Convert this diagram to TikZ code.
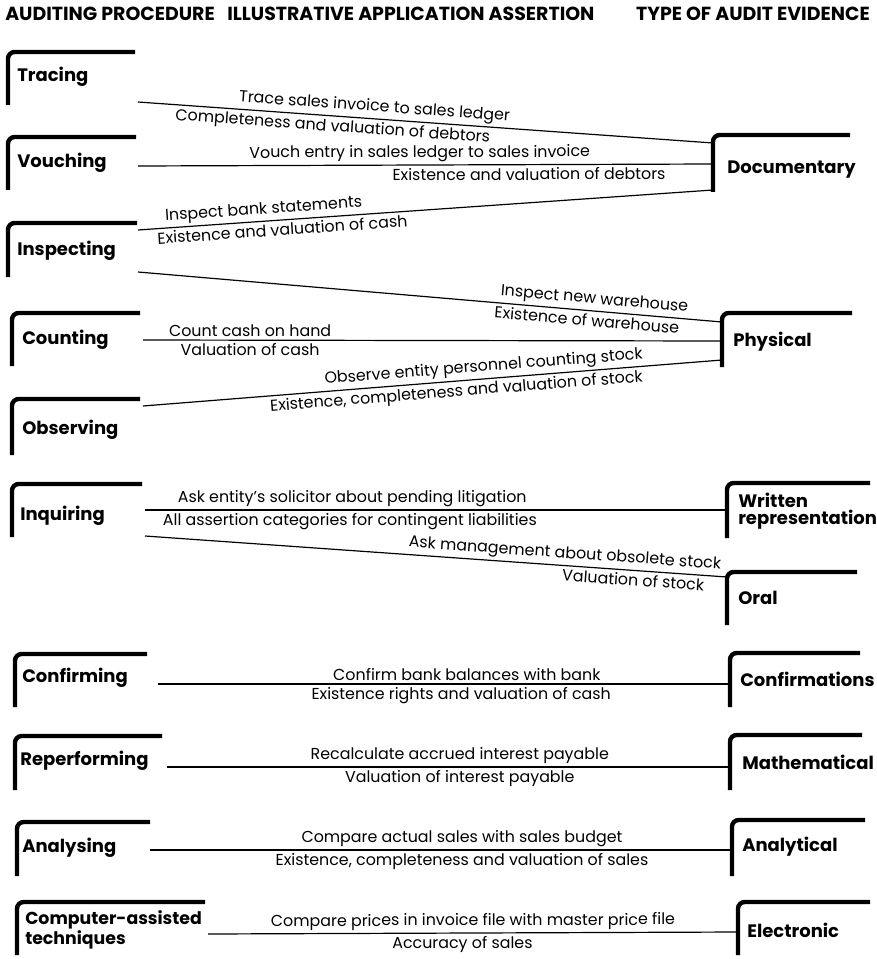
\documentclass[tikz,border=0pt]{standalone}
\usepackage{fontspec}
\setmainfont{Poppins}
\tikzset{
  bracket/.style={line width=3.3pt, rounded corners=5pt},
  proc/.style={anchor=west, inner sep=0pt, align=left, font=\bfseries\fontsize{13.5}{12.75}\selectfont},
  head/.style={anchor=west, inner sep=0pt, font=\bfseries\fontsize{14.2}{15}\selectfont},
  link/.style={line width=0.9pt},
  asrt/.style={sloped, inner sep=2pt, font=\fontsize{11.9}{13}\selectfont}
}

\begin{document}
\begin{tikzpicture}[x=0.75pt,y=-0.75pt]
  \useasboundingbox (0,0) rectangle (876,959);
  \node[head] (hproc) at (5,14) {AUDITING PROCEDURE};
  \node[head] (happ) at (227,14) {ILLUSTRATIVE APPLICATION ASSERTION};
  \node[head, anchor=east] (htype) at (870,14) {TYPE OF AUDIT EVIDENCE};

  \draw[bracket] (8,105) -- (8,52) -- (135,52);
  \node[proc] (tracing) at (17,77) {Tracing};
  \coordinate (tracing-r) at (138,102);
  \draw[bracket] (8,190) -- (8,137) -- (136,137);
  \node[proc] (vouching) at (17,163) {Vouching};
  \coordinate (vouching-r) at (138,166);
  \draw[bracket] (8,277) -- (8,223) -- (137,223);
  \node[proc] (inspecting) at (17,251) {Inspecting};
  \coordinate (inspecting-r1) at (138,230);
  \coordinate (inspecting-r2) at (138,272);
  \draw[bracket] (12,366) -- (12,313) -- (140,313);
  \node[proc] (counting) at (22,340) {Counting};
  \coordinate (counting-r) at (143,340);
  \draw[bracket] (12,455) -- (12,399) -- (140,399);
  \node[proc] (observing) at (22,430) {Observing};
  \coordinate (observing-r) at (143,406);
  \draw[bracket] (12,537) -- (12,484) -- (142,484);
  \node[proc] (inquiring) at (20,516) {Inquiring};
  \coordinate (inquiring-r1) at (145,510);
  \coordinate (inquiring-r2) at (145,536);
  \draw[bracket] (15,707) -- (15,654) -- (147,654);
  \node[proc] (confirming) at (22,678) {Confirming};
  \coordinate (confirming-r) at (158,684);
  \draw[bracket] (15,790) -- (15,736) -- (162,736);
  \node[proc] (reperforming) at (20,761) {Reperforming};
  \coordinate (reperforming-r) at (167,767);
  \draw[bracket] (17,876) -- (17,822) -- (150,822);
  \node[proc] (analysing) at (22,848) {Analysing};
  \coordinate (analysing-r) at (150,850);
  \draw[bracket] (17,955) -- (17,902) -- (205,902);
  \node[proc, font=\bfseries\fontsize{13}{12.75}\selectfont] (caat) at (25,930) {Computer-assisted\\techniques};
  \coordinate (caat-r) at (208,934);

  \draw[bracket] (713,192) -- (713,135) -- (850,135);
  \node[proc] (documentary) at (727,170) {Documentary};
  \coordinate (documentary-l1) at (713,143);
  \coordinate (documentary-l2) at (713,164);
  \coordinate (documentary-l3) at (713,190);
  \draw[bracket] (722,367) -- (722,313) -- (852,313);
  \node[proc] (physical) at (733,342) {Physical};
  \coordinate (physical-l1) at (722,322);
  \coordinate (physical-l2) at (722,341);
  \coordinate (physical-l3) at (722,360);
  \draw[bracket] (727,538) -- (727,483) -- (870,483);
  \node[proc] (written) at (738,511) {Written\\representation};
  \coordinate (written-l) at (727,510);
  \draw[bracket] (727,625) -- (727,572) -- (857,572);
  \node[proc] (oral) at (738,598) {Oral};
  \coordinate (oral-l) at (727,577);
  \draw[bracket] (730,707) -- (730,653) -- (860,653);
  \node[proc] (confirmations) at (740,679) {Confirmations};
  \coordinate (confirmations-l) at (730,684);
  \draw[bracket] (730,790) -- (730,735) -- (862,735);
  \node[proc] (mathematical) at (742,762) {Mathematical};
  \coordinate (mathematical-l) at (730,767);
  \draw[bracket] (732,876) -- (732,820) -- (865,820);
  \node[proc] (analytical) at (742,847) {Analytical};
  \coordinate (analytical-l) at (732,850);
  \draw[bracket] (738,955) -- (738,902) -- (870,902);
  \node[proc] (electronic) at (747,930) {Electronic};
  \coordinate (electronic-l) at (738,932);

  \draw[link] (tracing-r) -- node[asrt,above,pos=0.41] {Trace sales invoice to sales ledger}
    node[asrt,below,pos=0.34] {Completeness and valuation of debtors} (documentary-l1);
  \draw[link] (vouching-r) -- node[asrt,above,pos=0.49] {Vouch entry in sales ledger to sales invoice}
    node[asrt,below,pos=0.68] {Existence and valuation of debtors} (documentary-l2);
  \draw[link] (inspecting-r1) -- node[asrt,above,pos=0.22] {Inspect bank statements}
    node[asrt,below,pos=0.25] {Existence and valuation of cash} (documentary-l3);
  \draw[link] (inspecting-r2) -- node[asrt,above,pos=0.78] {Inspect new warehouse}
    node[asrt,below,pos=0.77] {Existence of warehouse} (physical-l1);
  \draw[link] (counting-r) -- node[asrt,above,pos=0.185] {Count cash on hand}
    node[asrt,below,pos=0.185] {Valuation of cash} (physical-l2);
  \draw[link] (observing-r) -- node[asrt,above,pos=0.59] {Observe entity personnel counting stock}
    node[asrt,below,pos=0.54] {Existence, completeness and valuation of stock} (physical-l3);
  \draw[link] (inquiring-r1) -- node[asrt,above,pos=0.356] {Ask entity's solicitor about pending litigation}
    node[asrt,below,pos=0.352] {All assertion categories for contingent liabilities} (written-l);
  \draw[link] (inquiring-r2) -- node[asrt,above,pos=0.72] {Ask management about obsolete stock}
    node[asrt,below,pos=0.84] {Valuation of stock} (oral-l);
  \draw[link] (confirming-r) -- node[asrt,above,pos=0.54] {Confirm bank balances with bank}
    node[asrt,below,pos=0.53] {Existence rights and valuation of cash} (confirmations-l);
  \draw[link] (reperforming-r) -- node[asrt,above,pos=0.52] {Recalculate accrued interest payable}
    node[asrt,below,pos=0.52] {Valuation of interest payable} (mathematical-l);
  \draw[link] (analysing-r) -- node[asrt,above,pos=0.536] {Compare actual sales with sales budget}
    node[asrt,below,pos=0.536] {Existence, completeness and valuation of sales} (analytical-l);
  \draw[link] (caat-r) -- node[asrt,above,pos=0.5] {Compare prices in invoice file with master price file}
    node[asrt,below,pos=0.48] {Accuracy of sales} (electronic-l);
\end{tikzpicture}
\end{document}
